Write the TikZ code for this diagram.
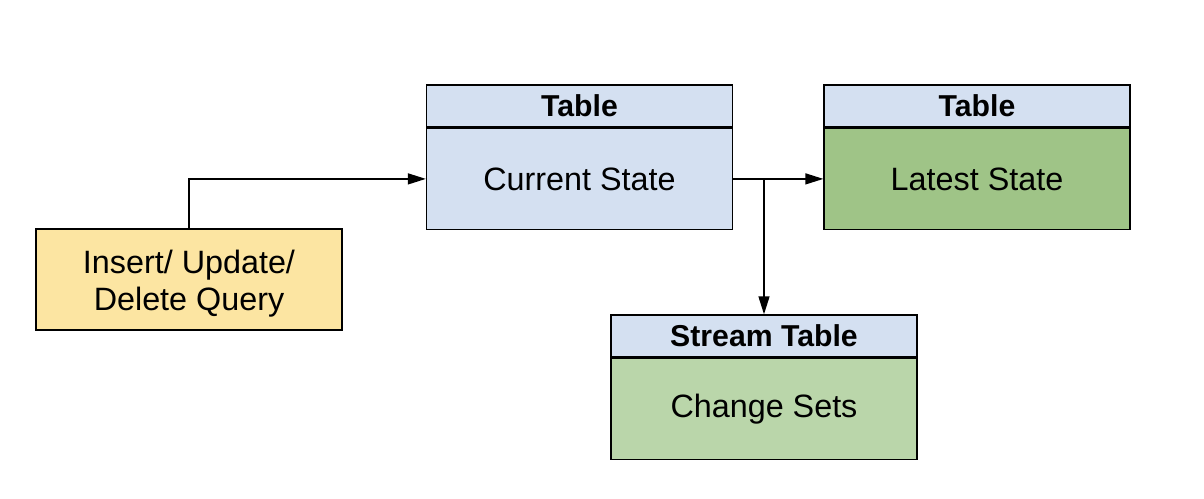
\documentclass[tikz,border=0pt]{standalone}
\usepackage{fontspec}
\setmainfont{Liberation Sans}
\usetikzlibrary{positioning,arrows.meta}
\definecolor{queryyellow}{HTML}{FCE5A2}
\definecolor{headblue}{HTML}{D4E0F1}
\definecolor{latestgreen}{HTML}{9FC487}
\definecolor{changegreen}{HTML}{BAD6AA}
\begin{document}
\begin{tikzpicture}[x=0.02cm, y=-0.02cm,
    box/.style={draw, line width=0.8pt, minimum width=6.12cm, inner sep=0pt,
      font=\fontsize{18.4}{21}\selectfont},
    headbox/.style={box, fill=headblue, minimum height=0.84cm,
      font=\fontsize{17.2}{20}\selectfont\bfseries},
    bodybox/.style={box, minimum height=2.02cm},
    flow/.style={line width=0.8pt, -{Triangle[length=0.36cm, width=0.22cm]}}]
  \useasboundingbox (0,0) rectangle (1204,498);

  % Query box
  \node [bodybox, fill=queryyellow, align=center] (query) at (189,279.5)
    {\rule{0pt}{18pt}Insert/ Update/\\Delete Query};

  % Tables
  \node [headbox] (curhead) at (579.5,106) {Table};
  \node [bodybox, fill=headblue, below=0pt of curhead] (cur) {Current State};

  \node [headbox] (latesthead) at (977,106) {Table};
  \node [bodybox, fill=latestgreen, below=0pt of latesthead] (latest) {Latest State};

  \node [headbox] (streamhead) at (764,336) {Stream Table};
  \node [bodybox, fill=changegreen, below=0pt of streamhead] (change) {Change Sets};

  % Connectors
  \draw [flow] (query.north) |- (cur.west);
  \draw [flow] (cur.east) -- (latest.west);
  \coordinate (split) at (cur.east -| streamhead.north);
  \draw [flow] (split) -- (streamhead.north);
\end{tikzpicture}
\end{document}
